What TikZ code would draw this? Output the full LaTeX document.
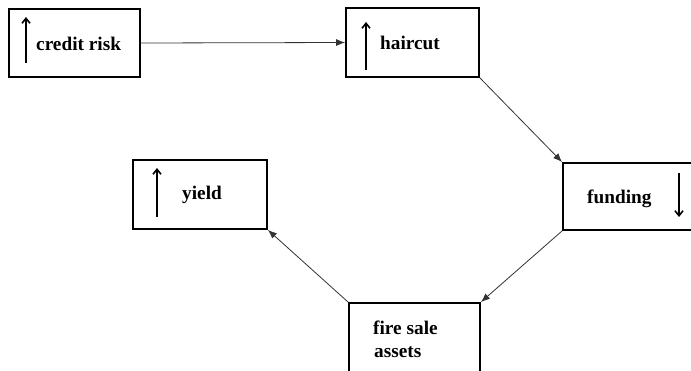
\documentclass[tikz,border=0pt]{standalone}
\usepackage{fontspec}
\setmainfont{Liberation Serif}
\usepackage{tikz}
\usetikzlibrary{arrows.meta,positioning}
\definecolor{linkGray}{HTML}{333333}

\tikzset{
    factor/.style={draw, line width=1.8pt, minimum width=131pt, minimum height=68pt, inner sep=0pt},
    lbl/.style={anchor=base west, inner sep=0pt, font=\fontsize{19.3}{23}\selectfont\bfseries},
    link/.style={draw=linkGray, line width=0.8pt, -{Latex[length=9pt,width=7pt]}},
    trend/.style={line width=1.6pt, -{Straight Barb[length=5pt,width=8pt]}}
}

\begin{document}
\begin{tikzpicture}[x=1pt,y=-1pt]
        \useasboundingbox (0,0) rectangle (691,370);
        \clip (0,0) rectangle (691,370);

        \node[factor] (credit)  at (74.5,43)   {};
        \node[factor, minimum width=133pt, minimum height=69pt] (haircut) at (412.5,42.5) {};
        \node[factor, minimum width=137pt, minimum height=67pt] (funding) at (631.5,196.5) {};
        \node[factor, minimum width=134pt, minimum height=69pt] (yield)   at (200,194.5)   {};
        \node[factor, minimum height=69pt] (firesale) at (414.5,337.5) {};

        \node[lbl] (credit-t)   at (36,50)   {credit risk};
        \node[lbl] (haircut-t)  at (380,49)  {haircut};
        \node[lbl] (funding-t)  at (587,203) {funding};
        \node[lbl] (yield-t)    at (182,199) {yield};
        \node[lbl] (firesale-t) at (373,334) {fire sale};
        \node[lbl] (assets-t)   at (374,357) {assets};

        \draw[trend] (26,63)  -- (26,17);
        \draw[trend] (366,70) -- (366,22);
        \draw[trend] (679,173) -- (679,217);
        \draw[trend] (157,217) -- (157,168);

        \draw[link] (credit.east) -- (haircut.west);
        \draw[link] (haircut.south east) -- (funding.north west);
        \draw[link] (funding.south west) -- (firesale.north east);
        \draw[link] (firesale.north west) -- (yield.south east);
    \end{tikzpicture}
\end{document}
